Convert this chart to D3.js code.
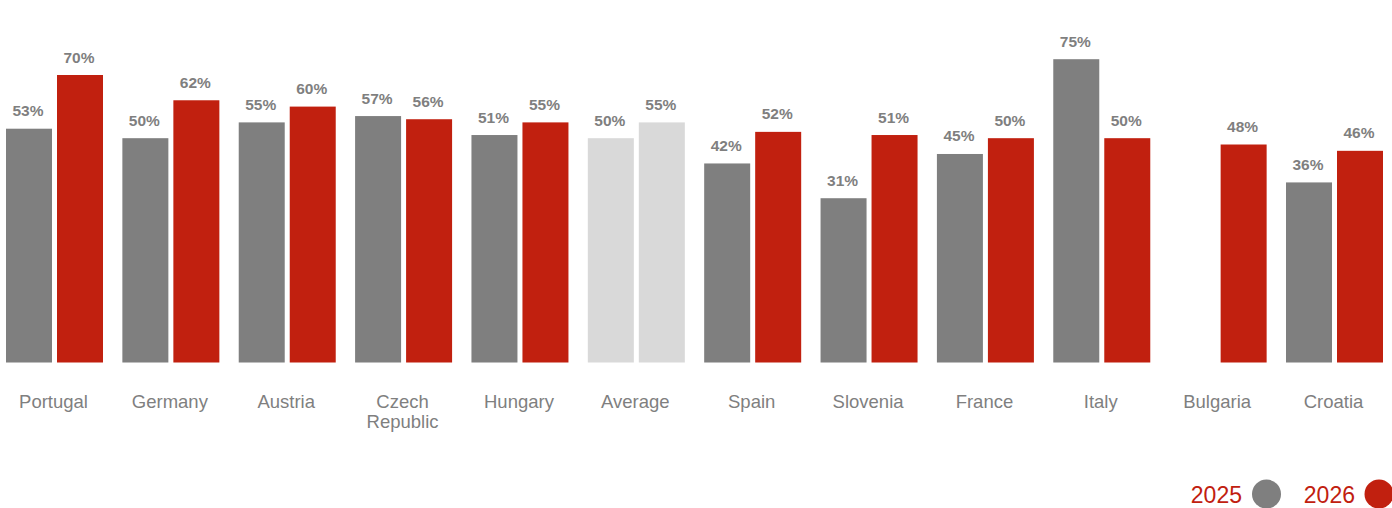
<!DOCTYPE html>
<html>
<head>
<meta charset="utf-8">
<script src="https://cdn.jsdelivr.net/npm/d3@7"></script>
<style>
  html, body { margin: 0; padding: 0; background: #fff; }
  svg { display: block; font-family: "Liberation Sans", Arial, sans-serif; }
</style>
</head>
<body>
<svg id="chart" width="1392" height="508"></svg>
<script>
// categories and values (percent)
const categories = ['Portugal', 'Germany', 'Austria', 'Czech Republic', 'Hungary', 'Average',
  'Spain', 'Slovenia', 'France', 'Italy', 'Bulgaria', 'Croatia'];
const values2025 = [53, 50, 55, 57, 51, 50, 42, 31, 45, 75, null, 36];
const values2026 = [70, 62, 60, 56, 55, 55, 52, 51, 50, 50, 48, 46];
const seriesNames = ['2025', '2026'];

const grey = '#7f7f7f';
const red = '#c1200f';
const avgGrey = '#d9d9d9';

const svg = d3.select('#chart');

const x = d3.scaleBand()
  .domain(categories)
  .range([6, 1383])
  .paddingInner(0.1664)
  .paddingOuter(0);

const xInner = d3.scaleBand()
  .domain(seriesNames)
  .range([0, x.bandwidth()])
  .paddingInner(0.098)
  .paddingOuter(0);

// value axis does not start at zero in the original
const y = d3.scaleLinear()
  .domain([-21, 70])
  .range([362.5, 75]);

const rows = categories.map((c, i) => ({
  category: c,
  values: [
    { series: '2025', value: values2025[i] },
    { series: '2026', value: values2026[i] }
  ]
}));

const color = (cat, series) => {
  if (cat === 'Average') return avgGrey;
  return series === '2025' ? grey : red;
};

const groups = svg.append('g')
  .selectAll('g')
  .data(rows)
  .enter()
  .append('g')
  .attr('transform', d => `translate(${x(d.category)},0)`);

const bars = groups.selectAll('g.bar')
  .data(d => d.values.filter(v => v.value !== null).map(v => ({ ...v, category: d.category })))
  .enter()
  .append('g')
  .attr('class', 'bar');

bars.append('rect')
  .attr('x', d => xInner(d.series))
  .attr('width', xInner.bandwidth())
  .attr('y', d => y(d.value))
  .attr('height', d => y.range()[0] - y(d.value))
  .style('fill', d => color(d.category, d.series));

bars.append('text')
  .attr('x', d => xInner(d.series) + xInner.bandwidth() / 2 - 1)
  .attr('y', d => y(d.value) - 12.5)
  .attr('text-anchor', 'middle')
  .style('font-size', '15.5px')
  .style('font-weight', 'bold')
  .style('fill', grey)
  .text(d => d.value + '%');

// category labels (wrap on space for long names)
const catLabels = groups.append('text')
  .attr('text-anchor', 'middle')
  .style('font-size', '18.5px')
  .style('fill', grey)
  .attr('transform', `translate(${x.bandwidth() / 2 - 1},408)`);

catLabels.selectAll('tspan')
  .data(d => d.category.length > 10 ? d.category.split(' ') : [d.category])
  .enter()
  .append('tspan')
  .attr('x', 0)
  .attr('dy', (d, i) => i === 0 ? 0 : 20)
  .text(d => d);

// legend
const legend = svg.append('g').attr('class', 'legend');
const legendItems = [
  { name: '2025', fill: grey, textEnd: 1242, cx: 1266.5 },
  { name: '2026', fill: red, textEnd: 1355, cx: 1379 }
];

legendItems.forEach(item => {
  legend.append('text')
    .attr('x', item.textEnd)
    .attr('y', 503)
    .attr('text-anchor', 'end')
    .style('font-size', '23px')
    .style('fill', red)
    .text(item.name);
  legend.append('circle')
    .attr('cx', item.cx)
    .attr('cy', 494)
    .attr('r', 14.5)
    .style('fill', item.fill);
});
</script>
</body>
</html>
